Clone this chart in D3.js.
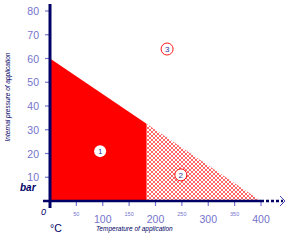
<!DOCTYPE html>
<html>
<head>
<meta charset="utf-8">
<script src="https://cdn.jsdelivr.net/npm/d3@7"></script>
<style>
  body { margin: 0; background: #fff; }
  text { font-family: "Liberation Sans", Arial, sans-serif; }
</style>
</head>
<body>
<div id="chart"></div>
<script>
// data
var yTicks = [10, 20, 30, 40, 50, 60, 70, 80];
var xTicksMajor = [100, 200, 300, 400];
var xTicksMinor = [50, 150, 250, 350];
var limitLine = [[0, 60], [400, 0]];   // temperature, pressure
var boundaryTemp = 183;
var zones = [
  {label: "1", t: 95, p: 21, kind: "in"},
  {label: "2", t: 248, p: 11, kind: "hatch"},
  {label: "3", t: 222, p: 64, kind: "out"}
];

var svgWidth = 292, svgHeight = 250;
var navy = "#000066", tickBlue = "#7474cc", red = "#ff0000";

var svg = d3.select("#chart").append("svg")
  .attr("width", svgWidth)
  .attr("height", svgHeight);

var x = d3.scaleLinear().domain([0, 400]).range([50, 261]);
var y = d3.scaleLinear().domain([0, 80]).range([201, 11]);

// crosshatch pattern
var defs = svg.append("defs");
var pat = defs.append("pattern")
  .attr("id", "hatch")
  .attr("patternUnits", "userSpaceOnUse")
  .attr("width", 4).attr("height", 4);
pat.append("path").attr("d", "M0,0 L4,4 M4,0 L0,4")
  .attr("stroke", red).attr("stroke-width", 0.6).attr("fill", "none");

function pAt(t) {
  var a = limitLine[0], b = limitLine[1];
  return a[1] + (b[1] - a[1]) * (t - a[0]) / (b[0] - a[0]);
}

var area = d3.area().x(d => x(d[0])).y0(y(0)).y1(d => y(d[1]));

svg.append("path")
  .datum([[0, pAt(0)], [boundaryTemp, pAt(boundaryTemp)]])
  .attr("d", area)
  .attr("fill", red);

svg.append("path")
  .datum([[boundaryTemp, pAt(boundaryTemp)], [400, pAt(400)]])
  .attr("d", area)
  .attr("fill", "url(#hatch)");

// y ticks
svg.selectAll(".ytick").data(yTicks).enter().append("line")
  .attr("x1", 45).attr("x2", 50)
  .attr("y1", d => y(d)).attr("y2", d => y(d))
  .attr("stroke", tickBlue).attr("stroke-width", 1.2);

svg.selectAll(".ylab").data(yTicks).enter().append("text")
  .attr("x", 39).attr("y", d => y(d) + 4)
  .attr("text-anchor", "end")
  .attr("font-size", 10.5)
  .attr("fill", tickBlue)
  .text(d => d);

// x ticks
svg.selectAll(".xtick").data(xTicksMajor.concat(xTicksMinor)).enter().append("line")
  .attr("x1", d => x(d)).attr("x2", d => x(d))
  .attr("y1", 201).attr("y2", 206)
  .attr("stroke", tickBlue).attr("stroke-width", 1.2);

svg.selectAll(".xlabMaj").data(xTicksMajor).enter().append("text")
  .attr("x", d => x(d)).attr("y", 223)
  .attr("text-anchor", "middle")
  .attr("font-size", 10.5)
  .attr("fill", tickBlue)
  .text(d => d);

svg.selectAll(".xlabMin").data(xTicksMinor).enter().append("text")
  .attr("x", d => x(d)).attr("y", 216)
  .attr("text-anchor", "middle")
  .attr("font-size", 5.5)
  .attr("fill", tickBlue)
  .text(d => d);

// axes
svg.append("line")
  .attr("x1", 50).attr("x2", 50).attr("y1", 4).attr("y2", 208)
  .attr("stroke", navy).attr("stroke-width", 3);
svg.append("line")
  .attr("x1", 43).attr("x2", x(400)).attr("y1", 201).attr("y2", 201)
  .attr("stroke", navy).attr("stroke-width", 2.5);
svg.append("line")
  .attr("x1", x(400)).attr("x2", 283).attr("y1", 201).attr("y2", 201)
  .attr("stroke", navy).attr("stroke-width", 2.5)
  .attr("stroke-dasharray", "3,2");
svg.append("path")
  .attr("d", "M280,196 L285,201 L280,206")
  .attr("fill", "none").attr("stroke", "#3333aa").attr("stroke-width", 0.9);

// zone markers
var zg = svg.selectAll(".zone").data(zones).enter().append("g")
  .attr("transform", d => "translate(" + x(d.t) + "," + y(d.p) + ")");
zg.append("circle")
  .attr("r", 6)
  .attr("fill", "#fff")
  .attr("stroke", d => d.kind === "in" ? "none" : red)
  .attr("stroke-width", 0.9);
zg.append("text")
  .attr("y", 3)
  .attr("text-anchor", "middle")
  .attr("font-size", 8)
  .attr("fill", "#333399")
  .text(d => d.label);

// axis titles
svg.append("text")
  .attr("transform", "translate(10,97) rotate(-90)")
  .attr("text-anchor", "middle")
  .attr("font-size", 6.5)
  .attr("font-style", "italic")
  .attr("fill", navy)
  .text("Internal pressure of application");

svg.append("text")
  .attr("x", 20).attr("y", 191)
  .attr("font-size", 10)
  .attr("font-style", "italic")
  .attr("font-weight", "bold")
  .attr("fill", navy)
  .text("bar");

svg.append("text")
  .attr("x", 41).attr("y", 215)
  .attr("font-size", 9)
  .attr("font-style", "italic")
  .attr("fill", navy)
  .text("0");

svg.append("text")
  .attr("x", 50).attr("y", 232)
  .attr("font-size", 10.5)
  .attr("fill", navy)
  .text("°C");

svg.append("text")
  .attr("x", 96).attr("y", 231)
  .attr("font-size", 6.5)
  .attr("font-style", "italic")
  .attr("fill", navy)
  .text("Temperature of application");
</script>
</body>
</html>
